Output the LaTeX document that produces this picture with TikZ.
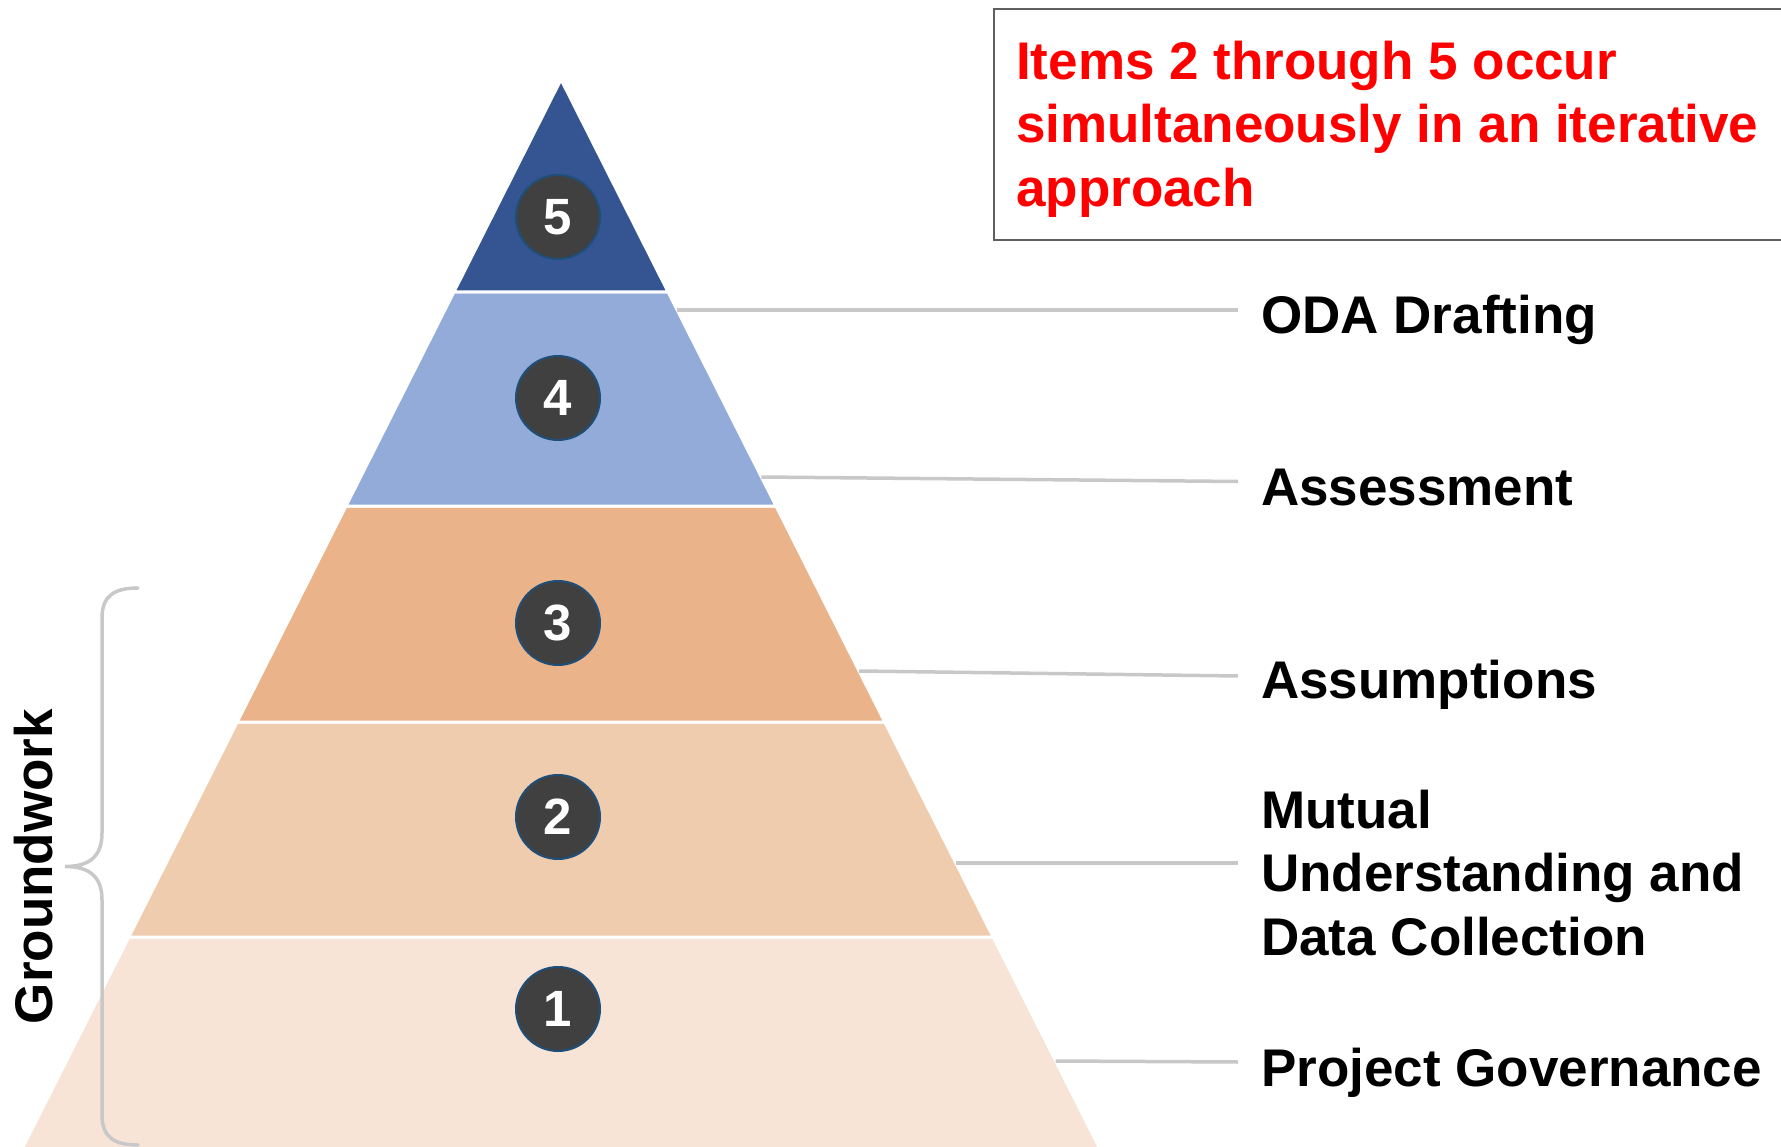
\documentclass[tikz,border=0pt]{standalone}
\usepackage{fontspec}
\setmainfont{Liberation Sans}
\definecolor{lay5}{HTML}{355592}
\definecolor{lay4}{HTML}{93ABD9}
\definecolor{lay3}{HTML}{EBB38A}
\definecolor{lay2}{HTML}{F0CCAF}
\definecolor{lay1}{HTML}{F8E4D7}
\definecolor{numfill}{HTML}{404040}
\definecolor{numring}{HTML}{1F4E79}
\definecolor{conn}{HTML}{C8C8C8}
\definecolor{boxline}{HTML}{5F5F5F}
\tikzset{
  layer/.style={draw=white, line width=3pt, line join=miter},
  numcircle/.style={circle, fill=numfill, draw=numring, line width=2pt,
    minimum size=84pt, inner sep=0pt, text=white,
    font=\fontsize{51}{51}\selectfont\bfseries},
  lbl/.style={anchor=base west, inner sep=0pt,
    font=\fontsize{53}{63}\selectfont\bfseries},
  redlbl/.style={lbl, text=red},
  connector/.style={draw=conn, line width=3.5pt},
  bracestyle/.style={draw=conn, line width=3.5pt, line cap=round}
}
\begin{document}
\begin{tikzpicture}[x=1pt, y=-1pt]
\useasboundingbox (0,0) rectangle (1781,1147);
\clip (0,0) rectangle (1781,1147);
% pyramid layers
\fill[lay1, layer] (128.8,937) -- (993.2,937) -- (1100.5,1150) -- (21.5,1150) -- cycle;
\fill[lay2, layer] (237.2,722) -- (884.8,722) -- (993.2,937) -- (128.8,937) -- cycle;
\fill[lay3, layer] (346.0,506) -- (776.0,506) -- (884.8,722) -- (237.2,722) -- cycle;
\fill[lay4, layer] (453.9,292) -- (668.1,292) -- (776.0,506) -- (346.0,506) -- cycle;
\fill[lay5, layer] (561,79.5) -- (668.1,292) -- (453.9,292) -- cycle;
% numbered circles
\node[numcircle] (n5) at (558,217) {5};
\node[numcircle] (n4) at (558,398) {4};
\node[numcircle] (n3) at (558,623) {3};
\node[numcircle] (n2) at (558,817) {2};
\node[numcircle] (n1) at (558,1009) {1};
% connector end points on the pyramid edge
\coordinate (e5) at (677.2,310);
\coordinate (e4) at (761.3,477);
\coordinate (e3) at (859.0,671);
\coordinate (e2) at (955.9,863);
\coordinate (e1) at (1055.7,1061);
\coordinate (t5) at (1238,310);
\coordinate (t4) at (1238,481.5);
\coordinate (t3) at (1238,676);
\coordinate (t2) at (1238,863);
\coordinate (t1) at (1238,1062);
\draw[connector] (e5) -- (t5);
\draw[connector] (e4) -- (t4);
\draw[connector] (e3) -- (t3);
\draw[connector] (e2) -- (t2);
\draw[connector] (e1) -- (t1);
% labels
\node[lbl] (l5) at (1261,334) {ODA Drafting};
\node[lbl] (l4) at (1261,505) {Assessment};
\node[lbl] (l3) at (1261,698) {Assumptions};
\node[lbl] (l2a) at (1261,828.5) {Mutual};
\node[lbl] (l2b) at (1261,891.8) {Understanding and};
\node[lbl] (l2c) at (1261,955) {Data Collection};
\node[lbl] (l1) at (1261,1086) {Project Governance};
% note box
\draw[draw=boxline, line width=2pt] (994,9) rectangle (1800,240.5);
\node[redlbl] (r1) at (1016,79.5) {Items 2 through 5 occur};
\node[redlbl] (r2) at (1016,143) {simultaneously in an iterative};
\node[redlbl] (r3) at (1016,206.5) {approach};
% groundwork brace
\draw[bracestyle] (138,588) .. controls (114,588) and (102,596) .. (102,618)
  -- (102,833) .. controls (102,856) and (90,866.5) .. (65,866.5)
  .. controls (90,866.5) and (102,877) .. (102,900)
  -- (102,1115) .. controls (102,1137) and (114,1145) .. (138,1145);
\node[lbl, anchor=base, rotate=90] (gw) at (52,866.5) {Groundwork};
\end{tikzpicture}
\end{document}
